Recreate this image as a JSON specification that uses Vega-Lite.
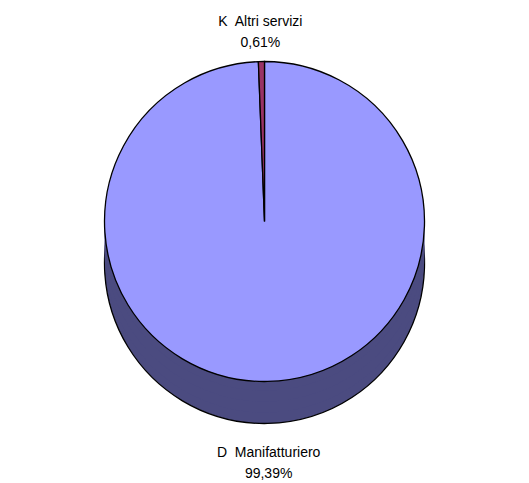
{
  "$schema": "https://vega.github.io/schema/vega-lite/v6.json",
  "width": 529,
  "height": 483,
  "autosize": {"type": "fit", "contains": "padding"},
  "padding": 0,
  "background": "white",
  "view": {"stroke": null},
  "data": {
    "values": [
      {"ordine": 1, "settore": "D\u00a0 Manifatturiero", "valore": 99.39, "etichetta": "99,39%"},
      {"ordine": 2, "settore": "K\u00a0 Altri servizi", "valore": 0.61, "etichetta": "0,61%"}
    ]
  },
  "encoding": {
    "theta": {"field": "valore", "type": "quantitative", "stack": true},
    "order": {"field": "ordine", "type": "quantitative"}
  },
  "layer": [
    {"mark": {"type": "arc", "radius": 160, "yOffset": 22, "fill": "#4B4B80", "stroke": "black", "strokeWidth": 1.3}},
    {"mark": {"type": "arc", "radius": 160, "yOffset": 11, "fill": "#4B4B80", "strokeWidth": 0}},
    {"mark": {"type": "arc", "radius": 160, "yOffset": 0, "fill": "#4B4B80", "strokeWidth": 0}},
    {"mark": {"type": "arc", "radius": 160, "yOffset": -11, "fill": "#4B4B80", "strokeWidth": 0}},
    {
      "mark": {"type": "arc", "radius": 160, "yOffset": -20, "stroke": "black", "strokeWidth": 1.3},
      "encoding": {
        "color": {"field": "ordine", "type": "nominal", "scale": {"domain": [1, 2], "range": ["#9999FF", "#993366"]}, "legend": null}
      }
    },
    {
      "mark": {"type": "text", "radius": 216, "yOffset": 7, "dy": -11, "font": "Liberation Sans", "fontSize": 14, "color": "black"},
      "encoding": {"text": {"field": "settore"}}
    },
    {
      "mark": {"type": "text", "radius": 216, "yOffset": 7, "dy": 10, "font": "Liberation Sans", "fontSize": 14, "color": "black"},
      "encoding": {"text": {"field": "etichetta"}}
    }
  ]
}
